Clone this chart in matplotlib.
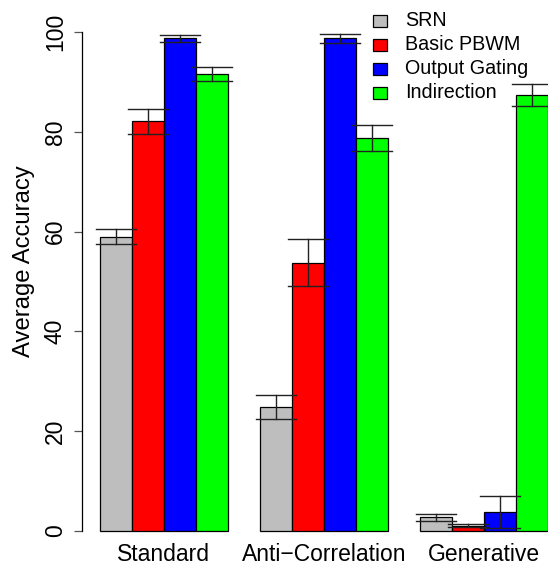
import matplotlib
matplotlib.use("Agg")
import matplotlib.pyplot as plt
from matplotlib.patches import Rectangle

categories = ["Standard", "Anti\u2212Correlation", "Generative"]
models = ["SRN", "Basic PBWM", "Output Gating", "Indirection"]
colors = ["#BEBEBE", "#FF0000", "#0000FF", "#00FF00"]
means = {
    "SRN":           [59.0, 24.8, 2.8],
    "Basic PBWM":    [82.1, 53.8, 1.1],
    "Output Gating": [98.7, 98.7, 3.8],
    "Indirection":   [91.6, 78.8, 87.3],
}
errs = {
    "SRN":           [1.5, 2.45, 0.7],
    "Basic PBWM":    [2.5, 4.8, 0.3],
    "Output Gating": [0.65, 0.9, 3.2],
    "Indirection":   [1.4, 2.6, 2.2],
}
yticks = [0, 20, 40, 60, 80, 100]

W, H = 548, 565
fig = plt.figure(figsize=(W / 100, H / 100), dpi=100)
plt.rcParams['font.family'] = ['Liberation Sans', 'DejaVu Sans']
ax = fig.add_axes([82 / W, 14 / H, 466 / W, 539 / H])
ax.set_xlim(0.44, 15.0)
ax.set_ylim(-4, 104)

for g, cat in enumerate(categories):
    for i, m in enumerate(models):
        left = 1 + g * 5 + i
        v = means[m][g]
        e = errs[m][g]
        ax.bar(left, v, width=1, align='edge', color=colors[i],
               edgecolor='black', linewidth=0.9, zorder=2)
        cx = left + 0.5
        ax.plot([cx, cx], [v - e, v + e], color='#222222', lw=1, zorder=3)
        for yy in (v - e, v + e):
            ax.plot([cx - 0.63, cx + 0.63], [yy, yy], color='#222222', lw=1, zorder=3)
    ax.text(1 + g * 5 + 2, -6.0, cat, ha='center', va='baseline',
            fontsize=16.5, clip_on=False)

for s in ['top', 'right', 'bottom']:
    ax.spines[s].set_visible(False)
ax.spines['left'].set_bounds(0, 100)
ax.spines['left'].set_linewidth(0.9)
ax.set_xticks([])
ax.set_yticks(yticks)
ax.set_yticklabels([str(t) for t in yticks], rotation=90, va='center', fontsize=16.5)
ax.tick_params(axis='y', length=5.8, width=0.9, pad=5, color='#555555')

fig.text(24 / W, 1 - 261 / H, "Average Accuracy", rotation=90, ha='center', va='center',
         fontsize=17.2)

# legend
rows = [21, 45, 69, 93]
for i, m in enumerate(models):
    yc = rows[i]
    fig.add_artist(Rectangle((373 / W, 1 - (yc + 6) / H), 14 / W, 12 / H,
                             transform=fig.transFigure, facecolor=colors[i],
                             edgecolor='black', linewidth=0.9))
    fig.text(405 / W, 1 - yc / H, m, ha='left', va='center', fontsize=14.2)

fig.savefig("out.png", dpi=100)
